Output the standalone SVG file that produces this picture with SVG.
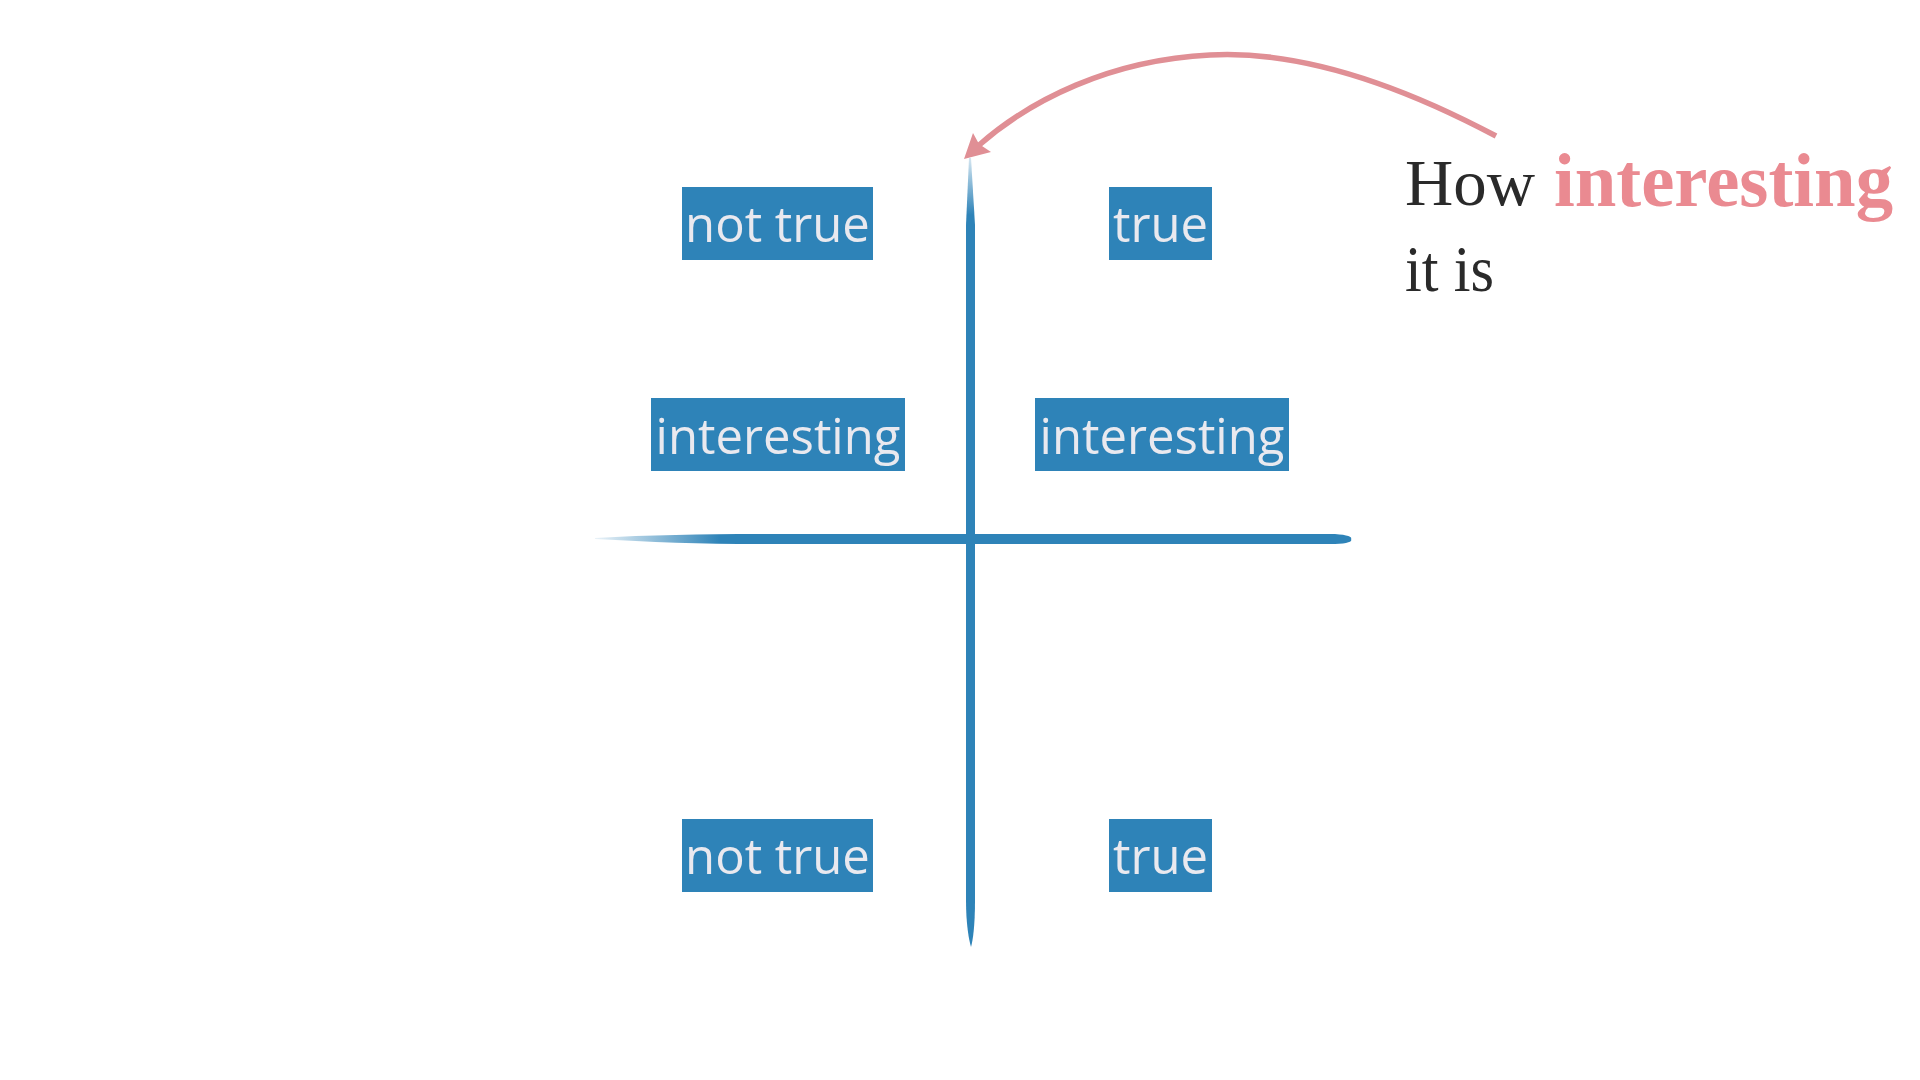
<svg xmlns="http://www.w3.org/2000/svg" width="1920" height="1080" viewBox="0 0 1920 1080">
<style>
.box rect{fill:#2e83b8}
.box text{font-family:"Open Sans","Noto Sans",sans-serif;font-size:49px;fill:#e9e9ef;text-anchor:middle}
.ann{font-family:"Liberation Serif",serif;font-size:65px}
</style>
<defs>
<linearGradient id="hfade" gradientUnits="userSpaceOnUse" x1="595" y1="0" x2="720" y2="0">
<stop offset="0" stop-color="#2e83b8" stop-opacity="0.1"/>
<stop offset="1" stop-color="#2e83b8" stop-opacity="1"/>
</linearGradient>
<linearGradient id="vfade" gradientUnits="userSpaceOnUse" x1="0" y1="158" x2="0" y2="215">
<stop offset="0" stop-color="#2e83b8" stop-opacity="0.2"/>
<stop offset="1" stop-color="#2e83b8" stop-opacity="1"/>
</linearGradient>
</defs>
<rect width="1920" height="1080" fill="#ffffff"/>
<g id="connectors">
<path id="axis-h" fill="url(#hfade)" d="M595,538 C650,535 700,534 760,534 L1330,534 C1346,534 1353,537 1351,539 C1353,542 1346,544 1330,544 L760,544 C700,544 650,542 595,539 Z"/>
<path id="axis-v" fill="url(#vfade)" d="M969,158 L966,225 L966,900 C966,925 969,940 971,947 C973,940 975,925 975,900 L975,225 L971,158 Z"/>
<path id="arrow" fill="none" stroke="#e08f95" stroke-width="5.5" d="M1496,136 C1400,85 1300,50 1210,55 C1110,60 1030,100 978,146"/>
<polygon fill="#e08f95" points="964,159 973,133 979,144 991,152"/>
</g>
<g id="n1" class="box"><rect x="682" y="187" width="191" height="73"/><text x="777.5" y="242">not true</text></g>
<g id="n2" class="box"><rect x="1109" y="187" width="103" height="73"/><text x="1160.5" y="242">true</text></g>
<g id="n3" class="box"><rect x="651" y="398" width="254" height="73"/><text x="778" y="454">interesting</text></g>
<g id="n4" class="box"><rect x="1035" y="398" width="254" height="73"/><text x="1162" y="454">interesting</text></g>
<g id="n5" class="box"><rect x="682" y="819" width="191" height="73"/><text x="777.5" y="874">not true</text></g>
<g id="n6" class="box"><rect x="1109" y="819" width="103" height="73"/><text x="1160.5" y="874">true</text></g>
<g id="annotation">
<text class="ann" x="1405" y="205" fill="#2a2a2a" textLength="130" lengthAdjust="spacingAndGlyphs">How</text>
<text x="1554" y="206" font-family="Liberation Serif,serif" font-size="76" font-weight="bold" fill="#ea8a91" textLength="339" lengthAdjust="spacingAndGlyphs">interesting</text>
<text class="ann" x="1405" y="291" fill="#2a2a2a" textLength="89" lengthAdjust="spacingAndGlyphs">it is</text>
</g>
</svg>
